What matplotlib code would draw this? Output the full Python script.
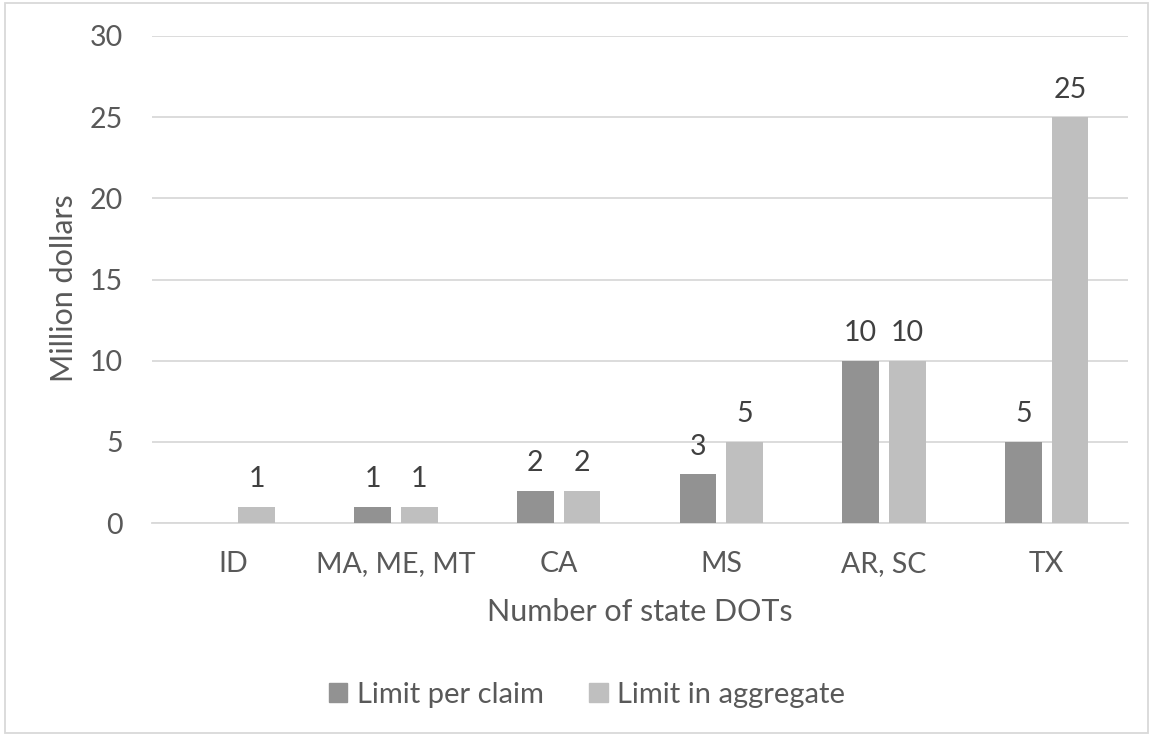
import matplotlib
matplotlib.use("Agg")
import matplotlib.pyplot as plt
import numpy as np
from matplotlib.patches import Rectangle

categories = ["ID", "MA, ME, MT", "CA", "MS", "AR, SC", "TX"]
limit_per_claim = [None, 1, 2, 3, 10, 5]
limit_in_aggregate = [1, 1, 2, 5, 10, 25]
series_names = ["Limit per claim", "Limit in aggregate"]
colors = ["#929292", "#bfbfbf"]
yticks = [0, 5, 10, 15, 20, 25, 30]

plt.rcParams["font.family"] = ["Lato", "DejaVu Sans"]

W, H = 1153, 736
fig = plt.figure(figsize=(W / 100, H / 100), dpi=100)
ax = fig.add_axes([152 / W, 1 - 523 / H, (1128 - 152) / W, (523 - 36) / H])

x = np.arange(len(categories))
bw = 0.225
gap = 0.063
off = (bw + gap) / 2

for i, (vals, c) in enumerate(zip([limit_per_claim, limit_in_aggregate], colors)):
    xs = x + (-off if i == 0 else off)
    for xi, v in zip(xs, vals):
        if v is None:
            continue
        ax.bar(xi, v, width=bw, color=c, zorder=3)
        ax.annotate(f"{v:g}", (xi, v), xytext=(0, 14), textcoords="offset points",
                    ha="center", va="baseline", fontsize=20.5, color="#404040")

ax.set_xlim(-0.5, len(categories) - 0.5)
ax.set_ylim(0, 30)
ax.set_yticks(yticks)
ax.set_xticks(x)
ax.set_xticklabels(categories)
ax.grid(axis="y", color="#d9d9d9", linewidth=1.3, zorder=0)
for s in ["top", "right", "left"]:
    ax.spines[s].set_visible(False)
ax.spines["bottom"].set_color("#d9d9d9")
ax.spines["bottom"].set_linewidth(1.3)
ax.tick_params(axis="both", length=0, labelsize=20.5, colors="#595959")
ax.tick_params(axis="y", pad=21)
ax.tick_params(axis="x", pad=20.5)

fig.text(640 / W, 1 - 621 / H, "Number of state DOTs", ha="center", va="baseline",
         fontsize=22, color="#595959")
fig.text(73 / W, 1 - 288 / H, "Million dollars", ha="center", va="baseline",
         rotation=90, rotation_mode="anchor", fontsize=22, color="#595959")

# legend
handles = [Rectangle((0, 0), 1, 1, color=c) for c in colors]
fig.legend(handles, series_names, loc="center", bbox_to_anchor=(587 / W, 1 - 695 / H),
           ncol=2, frameon=False, fontsize=21, handlelength=0.62, handleheight=0.62,
           handletextpad=0.31, columnspacing=1.58, labelcolor="#595959",
           borderpad=0, borderaxespad=0)

# chart border
fig.add_artist(Rectangle((5 / W, 3 / H), (1148 - 5) / W, (733 - 3) / H,
                         transform=fig.transFigure, fill=False,
                         edgecolor="#d9d9d9", linewidth=1.3))

fig.savefig("out.png", dpi=100)
